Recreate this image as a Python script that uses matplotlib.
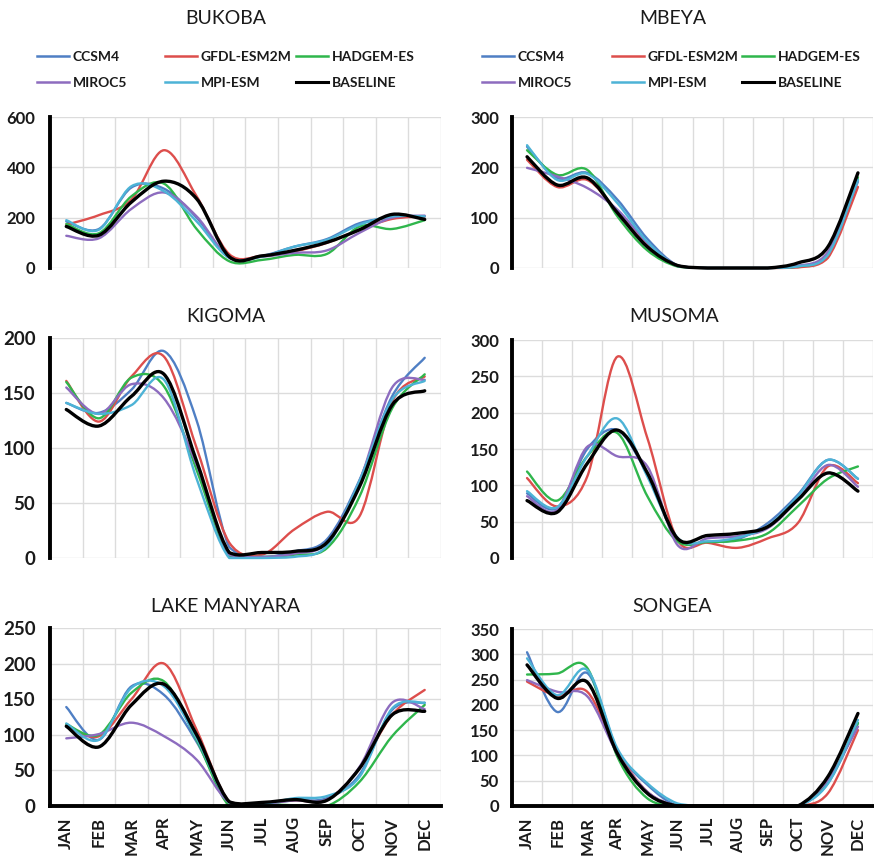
import numpy as np
import matplotlib
matplotlib.use("Agg")
import matplotlib.pyplot as plt
from matplotlib.path import Path
from matplotlib.patches import PathPatch
from matplotlib.legend import Legend

plt.rcParams["font.family"] = ["Lato", "DejaVu Sans"]

months = ["JAN", "FEB", "MAR", "APR", "MAY", "JUN",
          "JUL", "AUG", "SEP", "OCT", "NOV", "DEC"]
models = ["CCSM4", "GFDL-ESM2M", "HADGEM-ES", "MIROC5", "MPI-ESM", "BASELINE"]
colors = ["#4f7fc4", "#dd4e4c", "#2fb64c", "#8d6cbf", "#4db3d6", "#000000"]
widths = [1.7, 1.7, 1.7, 1.7, 1.7, 2.4]

# Monthly rainfall (mm) per station and model
bukoba = {
    "CCSM4":      [185, 155, 320, 315, 200, 42, 48, 85, 115, 178, 200, 205],
    "GFDL-ESM2M": [172, 210, 272, 468, 285, 55, 48, 66, 100, 152, 195, 205],
    "HADGEM-ES":  [175, 138, 285, 335, 155, 27, 32, 52, 56, 165, 155, 190],
    "MIROC5":     [128, 118, 235, 300, 205, 42, 45, 60, 70, 140, 200, 208],
    "MPI-ESM":    [190, 152, 325, 305, 185, 40, 45, 85, 112, 172, 205, 205],
    "BASELINE":   [165, 130, 262, 345, 275, 45, 48, 70, 102, 152, 213, 193],
}
mbeya = {
    "CCSM4":      [241, 179, 189, 136, 58, 5, 0, 0, 0, 3, 28, 172],
    "GFDL-ESM2M": [215, 161, 175, 112, 45, 4, 0, 0, 0, 1, 20, 161],
    "HADGEM-ES":  [234, 185, 195, 103, 35, 3, 0, 0, 0, 3, 28, 180],
    "MIROC5":     [199, 182, 159, 116, 50, 5, 0, 0, 0, 4, 32, 175],
    "MPI-ESM":    [244, 175, 187, 129, 52, 4, 0, 0, 0, 3, 26, 175],
    "BASELINE":   [221, 165, 179, 110, 42, 5, 0, 0, 0, 10, 42, 189],
}
kigoma = {
    "CCSM4":      [141, 132, 153, 188, 125, 10, 1, 6, 17, 71, 147, 182],
    "GFDL-ESM2M": [161, 124, 165, 183, 100, 14, 3, 26, 42, 38, 142, 165],
    "HADGEM-ES":  [160, 127, 164, 156, 80, 2, 1, 3, 9, 56, 136, 167],
    "MIROC5":     [155, 131, 158, 145, 85, 3, 1, 4, 14, 70, 155, 162],
    "MPI-ESM":    [141, 131, 139, 162, 72, 0, 0, 1, 11, 70, 144, 161],
    "BASELINE":   [135, 120, 147, 167, 88, 5, 5, 6, 14, 65, 139, 152],
}
musoma = {
    "CCSM4":      [89, 69, 150, 176, 115, 27, 22, 26, 48, 87, 135, 109],
    "GFDL-ESM2M": [110, 71, 112, 277, 165, 25, 21, 14, 27, 48, 126, 103],
    "HADGEM-ES":  [119, 79, 140, 172, 85, 23, 22, 24, 34, 71, 109, 126],
    "MIROC5":     [85, 66, 153, 140, 126, 18, 27, 30, 41, 80, 128, 98],
    "MPI-ESM":    [92, 70, 140, 192, 112, 28, 23, 28, 44, 85, 135, 109],
    "BASELINE":   [79, 63, 130, 176, 117, 27, 31, 34, 43, 80, 117, 92],
}
lake_manyara = {
    "CCSM4":      [139, 93, 168, 156, 90, 6, 3, 8, 11, 44, 135, 145],
    "GFDL-ESM2M": [113, 98, 150, 200, 107, 6, 4, 8, 9, 53, 128, 163],
    "HADGEM-ES":  [115, 100, 159, 175, 93, 0, 2, 1, 0, 34, 98, 142],
    "MIROC5":     [95, 101, 117, 98, 65, 5, 3, 8, 9, 55, 145, 136],
    "MPI-ESM":    [116, 93, 166, 168, 95, 5, 3, 11, 14, 41, 137, 145],
    "BASELINE":   [112, 83, 142, 171, 100, 6, 5, 9, 8, 53, 128, 133],
}
songea = {
    "CCSM4":      [304, 186, 263, 111, 42, 0, 0, 0, 0, 0, 45, 164],
    "GFDL-ESM2M": [246, 218, 226, 108, 28, 0, 0, 0, 0, 0, 25, 150],
    "HADGEM-ES":  [260, 262, 273, 98, 15, 0, 0, 0, 0, 0, 48, 164],
    "MIROC5":     [249, 226, 217, 104, 28, 0, 0, 0, 0, 0, 51, 157],
    "MPI-ESM":    [292, 219, 269, 114, 45, 5, 0, 0, 0, 0, 44, 170],
    "BASELINE":   [279, 213, 245, 104, 25, 0, 0, 0, 0, 0, 58, 183],
}

W, H = 874, 856
fig = plt.figure(figsize=(W / 100, H / 100), dpi=100)


def smooth_path(x, y):
    """Smoothed curve through every point (cubic Bezier, Catmull-Rom style).
    Control points are kept at or above zero, since rainfall cannot be negative."""
    pts = np.column_stack([x, y]).astype(float)
    n = len(pts)
    verts = [pts[0]]
    codes = [Path.MOVETO]
    for i in range(n - 1):
        p0 = pts[max(i - 1, 0)]
        p1 = pts[i]
        p2 = pts[i + 1]
        p3 = pts[min(i + 2, n - 1)]
        c1 = p1 + (p2 - p0) / 6.0
        c2 = p2 - (p3 - p1) / 6.0
        c1[1] = max(c1[1], 0.0)
        c2[1] = max(c2[1], 0.0)
        verts += [c1, c2, p2]
        codes += [Path.CURVE4] * 3
    return Path(verts, codes)


def px_axes(x0, y0, x1, y1):
    return fig.add_axes([x0 / W, 1 - y1 / H, (x1 - x0) / W, (y1 - y0) / H])


# name, data, pixel box, ymax, ystep, title centre, tick font size, bottom row, legend col x
panels = [
    ("BUKOBA", bukoba, (50, 117, 441, 268), 600, 200, (226, 18), 12, False, (37, 165, 296)),
    ("MBEYA", mbeya, (512, 117, 873, 268), 300, 100, (673, 18), 12, False, (482, 612, 742)),
    ("KIGOMA", kigoma, (50, 338, 441, 558), 200, 50, (226, 317), 13.5, False, None),
    ("MUSOMA", musoma, (512, 340, 873, 558), 300, 50, (674, 317), 12, False, None),
    ("LAKE MANYARA", lake_manyara, (50, 628, 441, 806), 250, 50, (226, 607), 13.5, True, None),
    ("SONGEA", songea, (512, 629, 873, 806), 350, 50, (672, 607), 12, True, None),
]

xs = np.arange(len(months))

for name, data, box, ymax, ystep, tpos, tfs, bottom_row, legx in panels:
    ax = px_axes(*box)
    ax.set_xlim(-0.5, 11.5)
    ax.set_ylim(0, ymax)
    yt = np.arange(0, ymax + 1, ystep)
    ax.set_yticks(yt)
    ax.set_yticklabels([str(v) for v in yt], fontsize=tfs, fontweight="bold",
                       color="#1a1a1a")
    ax.set_xticks(xs)
    ax.set_xticks(np.arange(-0.5, 12, 1.0), minor=True)
    ax.grid(which="minor", axis="x", color="#dcdcdc", lw=1.0)
    ax.grid(which="major", axis="y", color="#dcdcdc", lw=1.0)
    ax.set_axisbelow(True)
    ax.tick_params(which="both", length=0)
    left_col = box[0] < 100
    ax.tick_params(axis="y", pad=10.5 if left_col else 9.5)
    for s in ("top", "right"):
        ax.spines[s].set_visible(False)
    ax.spines["left"].set_linewidth(2.8)
    ax.spines["left"].set_color("black")
    if bottom_row:
        ax.spines["bottom"].set_linewidth(2.8)
        ax.spines["bottom"].set_color("black")
        ax.set_xticklabels(months, rotation=90, fontsize=12, fontweight="bold",
                           color="#1a1a1a")
        ax.tick_params(axis="x", pad=8)
    else:
        ax.spines["bottom"].set_visible(False)
        ax.set_xticklabels([])

    for m, c, lw in zip(models, colors, widths):
        patch = PathPatch(smooth_path(xs, data[m]), facecolor="none",
                          edgecolor=c, lw=lw, capstyle="round",
                          joinstyle="round", label=m, clip_on=False)
        ax.add_patch(patch)

    fig.text(tpos[0] / W, 1 - tpos[1] / H, name, ha="center", va="center",
             fontsize=14, color="#1a1a1a")

    if legx is not None:
        handles = {m: plt.Line2D([], [], color=c, lw=2.2 if m == "BASELINE" else 1.8)
                   for m, c in zip(models, colors)}
        cols = [("CCSM4", "MIROC5"), ("GFDL-ESM2M", "MPI-ESM"), ("HADGEM-ES", "BASELINE")]
        for cx, pair in zip(legx, cols):
            leg = Legend(ax, [handles[p] for p in pair], list(pair),
                         loc="upper left",
                         bbox_to_anchor=(cx / W, 1 - 51 / H),
                         bbox_transform=fig.transFigure,
                         frameon=False, borderpad=0, borderaxespad=0,
                         handlelength=2.3, handletextpad=0.25,
                         labelspacing=1.0,
                         prop={"size": 10, "weight": "bold"})
            for t in leg.get_texts():
                t.set_color("#1a1a1a")
            ax.add_artist(leg)

fig.savefig("out.png", dpi=100)
